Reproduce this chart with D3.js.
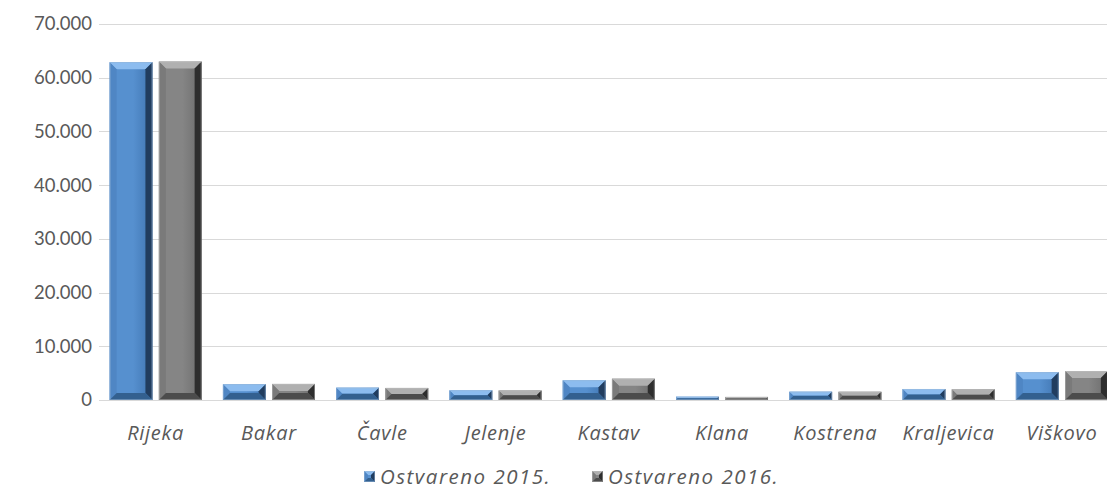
<!DOCTYPE html>
<html><head><meta charset="utf-8">
<script src="https://cdn.jsdelivr.net/npm/d3@7"></script>
<style>body{margin:0;background:#fff}svg{display:block}</style>
</head><body>
<svg id="c" width="1107" height="493"></svg>
<script>
const categories = ["Rijeka","Bakar","Čavle","Jelenje","Kastav","Klana","Kostrena","Kraljevica","Viškovo"];
const series = ["Ostvareno 2015.","Ostvareno 2016."];
const values2015 = [62900, 2950, 2300, 1800, 3670, 620, 1550, 2050, 5160];
const values2016 = [63000, 3000, 2250, 1780, 3970, 580, 1540, 2000, 5400];
const yTicks = [0,10000,20000,30000,40000,50000,60000,70000];

const palettes = [
  {id:"b", faceL:"#5690cf", faceR:"#3f74b0", top:"#8cbcef", left:"#4f86c4", right:"#213d5f", bottom:"#33608f", edge:"#9fbbd8"},
  {id:"g", faceL:"#858585", faceR:"#6c6c6c", top:"#b0b0b0", left:"#7a7a7a", right:"#2e2e2e", bottom:"#4c4c4c", edge:"#bdbdbd"}
];

const svg = d3.select("#c");
const defs = svg.append("defs");
palettes.forEach(p=>{
  const lg = defs.append("linearGradient").attr("id","face"+p.id).attr("x1","0").attr("x2","1").attr("y1","0").attr("y2","0");
  lg.append("stop").attr("offset","0").attr("stop-color",p.faceL);
  lg.append("stop").attr("offset","0.55").attr("stop-color",p.faceL);
  lg.append("stop").attr("offset","1").attr("stop-color",p.faceR);
});

const plotLeft = 99, plotRight = 1118.5, plotTop = 24, plotBottom = 400;
const loc = d3.formatLocale({decimal:",", thousands:".", grouping:[3], currency:["",""]});
const fmt = loc.format(",");

const x0 = d3.scaleBand().domain(categories).range([plotLeft, plotRight]).paddingInner(0).paddingOuter(0);
const groupW = 92;
const x1 = d3.scaleBand().domain(series).range([0, groupW]).paddingInner(12/92).paddingOuter(0);
const y = d3.scaleLinear().domain([0,70000]).range([plotBottom, plotTop]);

// gridlines
svg.append("g").selectAll("line").data(yTicks).join("line")
  .attr("x1", plotLeft).attr("x2", 1107)
  .attr("y1", d=>Math.round(y(d))+0.5).attr("y2", d=>Math.round(y(d))+0.5)
  .attr("stroke", "#d9d9d9").attr("stroke-width", 1);

// y tick labels
svg.append("g").selectAll("text").data(yTicks).join("text")
  .attr("x", 92).attr("y", d=>y(d)).attr("dy","0.35em")
  .attr("text-anchor","end")
  .attr("font-family","Lato, 'Open Sans', sans-serif").attr("font-size", 18.5)
  .attr("fill","#595959").text(d=>fmt(d));

function bevel(g, x, yy, w, h, p, bv) {
  const b = Math.min(bv, h/2, w/2);
  const x2 = x+w, y2 = yy+h;
  g.append("rect").attr("x",x).attr("y",yy).attr("width",w).attr("height",h).attr("fill","url(#face"+p.id+")");
  const polys = [
    {pts:[[x,yy],[x2,yy],[x2-b,yy+b],[x+b,yy+b]], c:p.top},
    {pts:[[x,yy],[x+b,yy+b],[x+b,y2-b],[x,y2]], c:p.left},
    {pts:[[x2,yy],[x2,y2],[x2-b,y2-b],[x2-b,yy+b]], c:p.right},
    {pts:[[x,y2],[x+b,y2-b],[x2-b,y2-b],[x2,y2]], c:p.bottom}
  ];
  polys.forEach(q=>g.append("polygon").attr("points", q.pts.map(d=>d.join(",")).join(" ")).attr("fill", q.c));
  g.append("rect").attr("x",x+0.5).attr("y",yy+0.5).attr("width",Math.max(0,w-1)).attr("height",Math.max(0,h-1))
    .attr("fill","none").attr("stroke",p.edge).attr("stroke-width",0.8).attr("opacity",0.6);
}

const data = categories.map((c,i)=>({cat:c, vals:[values2015[i], values2016[i]]}));
const off = (x0.bandwidth()-groupW)/2;
data.forEach(d=>{
  series.forEach((s,si)=>{
    const g = svg.append("g");
    const bx = x0(d.cat)+off+x1(s);
    const by = y(d.vals[si]);
    bevel(g, bx, by, x1.bandwidth(), plotBottom-by, palettes[si], 7);
  });
});

// category labels
svg.append("g").selectAll("text").data(categories).join("text")
  .attr("x", d=>x0(d)+x0.bandwidth()/2).attr("y", 433).attr("dy","0.35em")
  .attr("text-anchor","middle").attr("font-style","italic")
  .attr("font-family","'Open Sans', Lato, sans-serif").attr("font-size", 20)
  .attr("letter-spacing", 0.7)
  .attr("fill","#595959").text(d=>d);

// legend
const legX = [364, 592];
series.forEach((s,i)=>{
  const g = svg.append("g");
  bevel(g, legX[i], 471, 11, 11, palettes[i], 4);
  g.append("text").attr("x", legX[i]+16).attr("y", 477).attr("dy","0.35em")
    .attr("font-style","italic").attr("font-family","'Open Sans', Lato, sans-serif").attr("font-size", 20.5)
    .attr("letter-spacing", 1.5)
    .attr("fill","#595959").text(s);
});
</script>
</body></html>
